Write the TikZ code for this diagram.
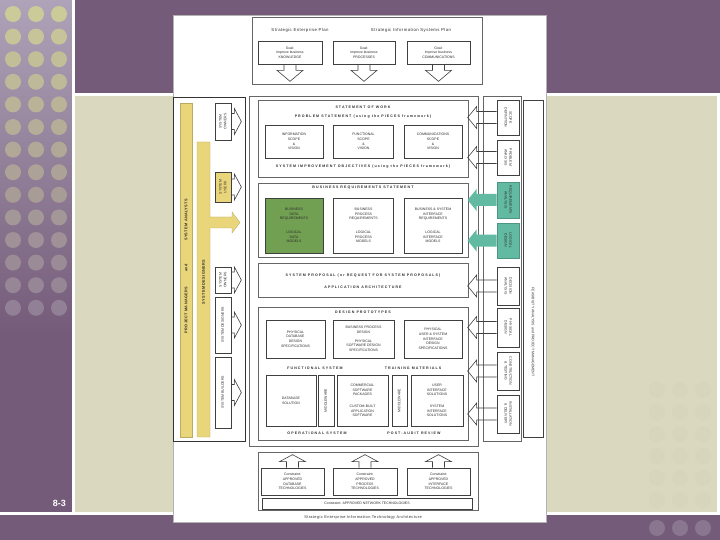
\documentclass[tikz,border=0pt]{standalone}
\usepackage{fontspec}
\setmainfont{Liberation Sans}
\newfontfamily\hdfont[LetterSpace=30]{Liberation Sans}
\newfontfamily\ltfont[LetterSpace=10]{Liberation Sans}
\usetikzlibrary{calc}
\definecolor{slpurple}{RGB}{116,91,121}
\definecolor{slbeige}{RGB}{218,217,192}
\definecolor{sllight}{RGB}{174,163,184}
\definecolor{dotyel}{RGB}{203,202,153}
\definecolor{dotfade}{RGB}{145,126,150}
\definecolor{bdot}{RGB}{138,118,143}
\definecolor{ybar}{RGB}{233,213,122}
\definecolor{gbox}{RGB}{113,160,82}
\definecolor{tealc}{RGB}{98,186,162}
\definecolor{txc}{RGB}{45,45,45}
\newcommand\txs{\fontsize{3.5}{4.7}\selectfont}
\newcommand\hds{\hdfont\bfseries\fontsize{3.6}{4.5}\selectfont}
\newcommand\lts{\ltfont\fontsize{4.3}{5}\selectfont}
\newcommand\rotL[1]{\rotatebox{90}{\begin{tabular}{@{}c@{}}#1\end{tabular}}}
\newcommand\rotR[1]{\rotatebox{-90}{\begin{tabular}{@{}c@{}}#1\end{tabular}}}
\begin{document}
\begin{tikzpicture}[x=1pt,y=-1pt,
  panel/.style={draw=black!60, line width=0.6pt},
  sect/.style={draw=black!60, line width=0.6pt, fill=white, inner sep=0pt},
  ibox/.style={draw=black!75, line width=0.7pt, fill=white, align=center, inner sep=0pt, font=\txs, text=txc},
  hd/.style={font=\hds, text=txc, inner sep=0pt},
  lt/.style={font=\lts, text=txc, inner sep=0pt},
  bart/.style={font=\ltfont\bfseries\fontsize{3.8}{4.5}\selectfont, text=txc, inner sep=0pt},
  ybarst/.style={fill=ybar, draw=ybar!80!black, line width=0.3pt},
  arrl/.style={draw=black!75, line width=0.6pt, line join=miter},
  darr/.pic={\draw[arrl] (-6,0) -- (-6,6) -- (-13,6) -- (0,17) -- (13,6) -- (6,6) -- (6,0);},
  uarr/.pic={\draw[arrl] (-6,0) -- (-6,-6) -- (-13,-6) -- (0,-13) -- (13,-6) -- (6,-6) -- (6,0);},
  rarr/.pic={\draw[arrl] (0,-8) -- (3,-8) -- (3,-13) -- (10,0) -- (3,13) -- (3,8) -- (0,8);},
  larr/.pic={\draw[arrl] (0,-6) -- (-20,-6) -- (-20,-11) -- (-29,0) -- (-20,11) -- (-20,6) -- (0,6);},
  tarr/.pic={\fill[tealc] (0,-6) -- (-20,-6) -- (-20,-11) -- (-29,0) -- (-20,11) -- (-20,6) -- (0,6) -- cycle;}
]
\useasboundingbox (0,0) rectangle (720,540);
% ---------- slide background ----------
\fill[slpurple] (0,0) rectangle (720,540);
\shade[top color=sllight, bottom color=slpurple] (0,0) rectangle (72,335);
\foreach \i in {0,...,13}{
  \pgfmathsetmacro\pp{100-7.5*\i}
  \foreach \xx in {13,36,59}{
    \fill[dotyel!\pp!dotfade] (\xx,{14+22.6*\i}) circle (8);
  }
}
\fill[white] (72,0) rectangle (75,515);
\fill[white] (75,93) rectangle (720,96);
\fill[slbeige] (75,96) rectangle (717,512);
\fill[white] (717,96) rectangle (720,515);
\fill[white] (0,512) rectangle (720,515);
\foreach \yy in {390,412,434,456,478,500}{
  \foreach \xx in {657,680,703}{
    \fill[slbeige!98.5!black] (\xx,\yy) circle (8);
  }
}
\foreach \xx in {657,680,703}{\fill[bdot] (\xx,528) circle (8);}
\node[text=white, font=\bfseries\fontsize{9}{9}\selectfont, anchor=east, inner sep=0pt] (pgnum) at (66,503) {8-3};
% ---------- page ----------
\draw[fill=white, draw=black!30, line width=0.4pt] (173,15) rectangle (546,522);
% ---------- top panel ----------
\draw[panel] (252,17) rectangle (482,84);
\node[lt] (sep) at (300,30) {Strategic Enterprise Plan};
\node[lt] (sisp) at (411,30) {Strategic Information Systems Plan};
\node[ibox, minimum width=64, minimum height=23] (g1) at (290,52.5) {Goal:\\improve business\\KNOWLEDGE};
\node[ibox, minimum width=62, minimum height=23] (g2) at (364,52.5) {Goal:\\improve business\\PROCESSES};
\node[ibox, minimum width=63, minimum height=23] (g3) at (438.5,52.5) {Goal:\\improve business\\COMMUNICATIONS};
\pic at (g1.south) {darr};
\pic at (g2.south) {darr};
\pic at (g3.south) {darr};
% ---------- left panel ----------
\draw[draw=black!80, line width=0.8pt] (173,97) rectangle (245,441);
\draw[ybarst] (180,103) rectangle (192,437);
\draw[ybarst] (197,142) -- (210,142) -- (210,217) -- (232,217) -- (232,212) -- (240,222.5) -- (232,233) -- (232,228) -- (210,228) -- (210,437) -- (197,437) -- cycle;
\node[bart, rotate=90] (pm) at (186,310) {PROJECT MANAGERS};
\node[bart, rotate=90] (and1) at (186,268) {and};
\node[bart, rotate=90] (san) at (186,220) {SYSTEM ANALYSTS};
\node[bart, rotate=90] (sdes) at (203.5,282) {SYSTEM DESIGNERS};
\node[ibox, minimum width=16, minimum height=37] (lo1) at (223,121.5) {\rotL{SYSTEM\\OWNERS}};
\node[ibox, fill=ybar, minimum width=16, minimum height=30] (lu) at (223,187) {\rotL{SYSTEM\\USERS}};
\node[ibox, minimum width=16, minimum height=26] (lo2) at (223,280) {\rotL{SYSTEM\\OWNERS}};
\node[ibox, minimum width=16, minimum height=56] (ld) at (223,325) {\rotL{SYSTEM DESIGNERS}};
\node[ibox, minimum width=16, minimum height=71] (lb) at (223,392.5) {\rotL{SYSTEM BUILDERS}};
\pic at (lo1.east) {rarr};
\pic at (lu.east) {rarr};
\pic at (lo2.east) {rarr};
\pic at (ld.east) {rarr};
\pic at (lb.east) {rarr};
% ---------- center frame ----------
\draw[panel] (249,96) rectangle (478,446);
% statement of work
\node[sect, minimum width=210, minimum height=77] (sow) at (363,138.5) {};
\node[hd] (h1) at (363,107) {STATEMENT OF WORK};
\node[hd] (h2) at (363,117) {PROBLEM STATEMENT (using the PIECES framework)};
\node[ibox, minimum width=58, minimum height=33] (s1) at (294,141.5) {INFORMATION\\SCOPE\\\&\\VISION};
\node[ibox, minimum width=60, minimum height=33] (s2) at (363.5,141.5) {FUNCTIONAL\\SCOPE\\\&\\VISION};
\node[ibox, minimum width=58, minimum height=33] (s3) at (433,141.5) {COMMUNICATIONS\\SCOPE\\\&\\VISION};
\node[hd] (h3) at (363,167) {SYSTEM IMPROVEMENT OBJECTIVES (using the PIECES framework)};
% business requirements
\node[sect, minimum width=210, minimum height=74] (brs) at (363,220) {};
\node[hd] (h4) at (363,188) {BUSINESS REQUIREMENTS STATEMENT};
\node[ibox, fill=gbox, minimum width=58, minimum height=55] (b1) at (294,225.5) {BUSINESS\\DATA\\REQUIREMENTS\\[9pt]LOGICAL\\DATA\\MODELS};
\node[ibox, minimum width=60, minimum height=55] (b2) at (363.5,225.5) {BUSINESS\\PROCESS\\REQUIREMENTS\\[9pt]LOGICAL\\PROCESS\\MODELS};
\node[ibox, minimum width=58, minimum height=55] (b3) at (433,225.5) {BUSINESS \& SYSTEM\\INTERFACE\\REQUIREMENTS\\[9pt]LOGICAL\\INTERFACE\\MODELS};
% system proposal
\node[sect, minimum width=210, minimum height=34] (spr) at (363,280) {};
\node[hd] (h5) at (363,276) {SYSTEM PROPOSAL (or REQUEST FOR SYSTEM PROPOSALS)};
\node[hd] (h6) at (363,287) {APPLICATION ARCHITECTURE};
% design
\node[sect, minimum width=210, minimum height=133] (dsg) at (363,373.5) {};
\node[hd] (h7) at (363,312) {DESIGN PROTOTYPES};
\node[ibox, minimum width=59, minimum height=38] (d1) at (295.5,339) {PHYSICAL\\DATABASE\\DESIGN\\SPECIFICATIONS};
\node[ibox, minimum width=61, minimum height=38] (d2) at (363.5,339) {BUSINESS PROCESS\\DESIGN\\[4pt]PHYSICAL\\SOFTWARE DESIGN\\SPECIFICATIONS};
\node[ibox, minimum width=58, minimum height=38] (d3) at (433,339) {PHYSICAL\\USER \& SYSTEM\\INTERFACE\\DESIGN\\SPECIFICATIONS};
\node[hd] (h8) at (315,368) {FUNCTIONAL SYSTEM};
\node[hd] (h9) at (413,368) {TRAINING MATERIALS};
\node[ibox, minimum width=50, minimum height=51] (e1) at (291,400.5) {DATABASE\\SOLUTION};
\node[ibox, minimum width=16, minimum height=51] (e2) at (326,400.5) {\rotL{MIDDLEWARE}};
\node[ibox, minimum width=51, minimum height=51] (e3) at (362.5,400.5) {COMMERCIAL\\SOFTWARE\\PACKAGES\\[7pt]CUSTOM-BUILT\\APPLICATION\\SOFTWARE};
\node[ibox, minimum width=15, minimum height=51] (e4) at (399.5,400.5) {\rotL{MIDDLEWARE}};
\node[ibox, minimum width=52, minimum height=51] (e5) at (437,400.5) {USER\\INTERFACE\\SOLUTIONS\\[7pt]SYSTEM\\INTERFACE\\SOLUTIONS};
\node[hd] (h10) at (317,433) {OPERATIONAL SYSTEM};
\node[hd] (h11) at (414,433) {POST-AUDIT REVIEW};
% ---------- right panel ----------
\draw[panel] (483,96) rectangle (521,441);
\node[ibox, minimum width=22, minimum height=35] (rs) at (508,117.5) {\rotR{SCOPE\\DEFINITION}};
\node[ibox, minimum width=22, minimum height=35] (rp) at (508,157.5) {\rotR{PROBLEM\\ANALYSIS}};
\node[ibox, fill=tealc, draw=tealc!80!black, minimum width=22, minimum height=36] (rr) at (508,200) {\rotR{REQUIREMENTS\\ANALYSIS}};
\node[ibox, fill=tealc, draw=tealc!80!black, minimum width=22, minimum height=35] (rl) at (508,240.5) {\rotR{LOGICAL\\DESIGN}};
\node[ibox, minimum width=22, minimum height=38] (rd) at (508,286) {\rotR{DECISION\\ANALYSIS}};
\node[ibox, minimum width=22, minimum height=39] (rph) at (508,327.5) {\rotR{PHYSICAL\\DESIGN}};
\node[ibox, minimum width=22, minimum height=38] (rc) at (508,371) {\rotR{CONSTRUCTION\\\& TESTING}};
\node[ibox, minimum width=22, minimum height=38] (ri) at (508,414) {\rotR{INSTALLATION\\\& DELIVERY}};
\pic at (rs.west) {larr};
\pic at (rp.west) {larr};
\pic at (rr.west) {tarr};
\pic at (rl.west) {tarr};
\pic at (rd.west) {larr};
\pic at (rph.west) {larr};
\pic at (rc.west) {larr};
\pic at (ri.west) {larr};
\node[ibox, minimum width=20, minimum height=337] (rf) at (533,268.5) {};
\node[font=\txs, text=txc, inner sep=0pt, rotate=-90] (rft) at (533,332) {FEASIBILITY ANALYSIS and PROJECT MANAGEMENT};
% ---------- bottom panel ----------
\draw[panel] (258,452) rectangle (478,510);
\node[ibox, minimum width=63, minimum height=27] (c1) at (292.5,481.5) {Constraint:\\APPROVED\\DATABASE\\TECHNOLOGIES};
\node[ibox, minimum width=64, minimum height=27] (c2) at (365,481.5) {Constraint:\\APPROVED\\PROCESS\\TECHNOLOGIES};
\node[ibox, minimum width=63, minimum height=27] (c3) at (438.5,481.5) {Constraint:\\APPROVED\\INTERFACE\\TECHNOLOGIES};
\pic at (c1.north) {uarr};
\pic at (c2.north) {uarr};
\pic at (c3.north) {uarr};
\node[ibox, minimum width=210, minimum height=11] (net) at (367,503.5) {Constraint: APPROVED NETWORK TECHNOLOGIES};
\node[lt, font=\ltfont\fontsize{3.9}{4.5}\selectfont] (cap) at (363,517) {Strategic Enterprise Information Technology Architecture};
\end{tikzpicture}
\end{document}
